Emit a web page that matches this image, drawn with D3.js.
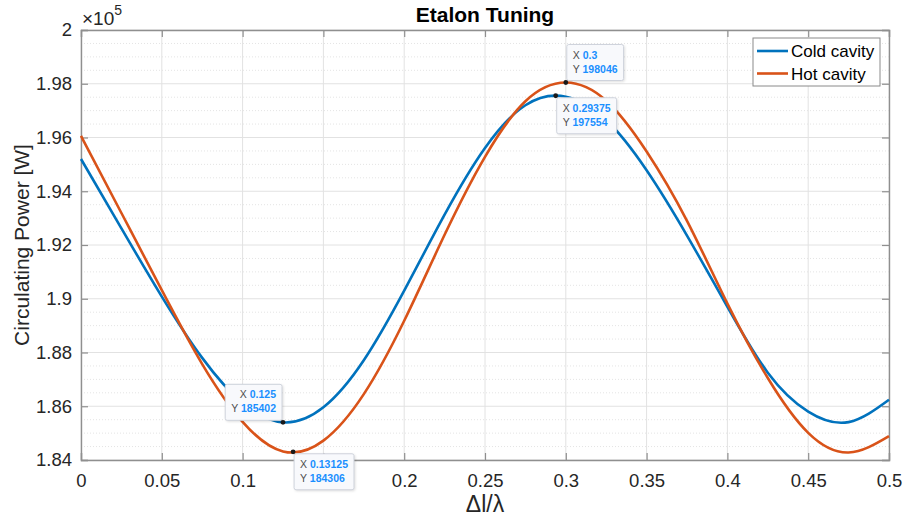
<!DOCTYPE html>
<html>
<head>
<meta charset="utf-8">
<script src="https://cdn.jsdelivr.net/npm/d3@7"></script>
<style>
  body { margin: 0; background: #fff; }
  svg { font-family: "Liberation Sans", Arial, Helvetica, sans-serif; }
</style>
</head>
<body>
<div id="chart"></div>
<script>

// detuning dl/lambda, sampled every 0.025
var xVals = [0, 0.025, 0.05, 0.075, 0.1, 0.125, 0.15, 0.175, 0.2, 0.225, 0.25,
             0.275, 0.3, 0.325, 0.35, 0.375, 0.4, 0.425, 0.45, 0.475, 0.5];

// circulating power [W]
var coldVals = [195200, 192620, 190080, 187800, 186120, 185400, 185960, 187710, 190300, 193130, 195610,
                197200, 197520, 196650, 194780, 192350, 189700, 187250, 185800, 185410, 186240];
var hotVals  = [196060, 193190, 190320, 187570, 185420, 184320, 184720, 186450, 189180, 192380, 195280,
                197350, 198046, 197370, 195480, 192900, 189820, 187050, 185010, 184280, 184890];

var seriesNames = ["Cold cavity", "Hot cavity"];

var xTicks = [0, 0.05, 0.1, 0.15, 0.2, 0.25, 0.3, 0.35, 0.4, 0.45, 0.5];
var yTicks = [184000, 186000, 188000, 190000, 192000, 194000, 196000, 198000, 200000];

// data tips: [series index, x, y]
var tips = [[0, 0.125, 185402], [1, 0.13125, 184306], [1, 0.3, 198046], [0, 0.29375, 197554]];

render();

function render() {

    var w = 906, h = 517;
    var margin = {top: 30, right: 17, bottom: 57, left: 81},
        width = w - margin.left - margin.right,
        height = h - margin.top - margin.bottom;

    var colors = ["#0072BD", "#D95319"];
    var axisColor = "#8f8f8f", textColor = "#262626";

    var svg = d3.select("#chart").append("svg")
        .attr("width", w)
        .attr("height", h);

    var x = d3.scaleLinear().domain([0, 0.5]).range([0, width]);
    var y = d3.scaleLinear().domain([184000, 200000]).range([height, 0]);

    var g = svg.append("g")
        .attr("transform", "translate(" + margin.left + "," + margin.top + ")");

    /* grid */
    var minor = d3.range(184000, 200001, 500).filter(function (v) {
        return yTicks.indexOf(v) < 0;
    });
    g.append("g").selectAll("line")
        .data(minor)
        .enter().append("line")
        .attr("x1", 0).attr("x2", width)
        .attr("y1", function (d) { return y(d); })
        .attr("y2", function (d) { return y(d); })
        .attr("stroke", "#e4e4e4")
        .attr("stroke-dasharray", "1,2");

    g.append("g").selectAll("line")
        .data(yTicks)
        .enter().append("line")
        .attr("x1", 0).attr("x2", width)
        .attr("y1", function (d) { return y(d); })
        .attr("y2", function (d) { return y(d); })
        .attr("stroke", "#e2e2e2");

    g.append("g").selectAll("line")
        .data(xTicks)
        .enter().append("line")
        .attr("y1", 0).attr("y2", height)
        .attr("x1", function (d) { return x(d); })
        .attr("x2", function (d) { return x(d); })
        .attr("stroke", "#e2e2e2");

    /* axes */
    var fmtY = function (d) { return d3.format("~g")(d / 1e5); };

    var xAxis = g.append("g")
        .attr("transform", "translate(0," + height + ")")
        .call(d3.axisBottom(x).tickValues(xTicks).tickSize(-7).tickPadding(14)
            .tickFormat(function (d) { return d3.format("~g")(d); }));
    var xTop = g.append("g")
        .call(d3.axisTop(x).tickValues(xTicks).tickSize(-7).tickFormat(""));
    var yAxis = g.append("g")
        .call(d3.axisLeft(y).tickValues(yTicks).tickSize(-7).tickPadding(9).tickFormat(fmtY));
    var yRight = g.append("g")
        .attr("transform", "translate(" + width + ",0)")
        .call(d3.axisRight(y).tickValues(yTicks).tickSize(-7).tickFormat(""));

    [xAxis, xTop, yAxis, yRight].forEach(function (a) {
        a.selectAll("path").attr("stroke", axisColor).attr("stroke-width", 1.4);
        a.selectAll("line").attr("stroke", axisColor).attr("stroke-width", 1.2);
        a.selectAll("text")
            .attr("fill", textColor)
            .style("font-size", "18.5px")
            .style("font-family", "'Liberation Sans', Arial, sans-serif");
    });
    xAxis.selectAll("text").attr("dy", "0.71em");

    /* exponent label */
    var expo = svg.append("text")
        .attr("x", margin.left + 1)
        .attr("y", 25)
        .attr("fill", textColor)
        .style("font-size", "19px");
    expo.append("tspan").text("\u00d710");
    expo.append("tspan").attr("dy", -10).style("font-size", "14px").text("5");

    /* lines */
    var line = d3.line()
        .x(function (d) { return x(d[0]); })
        .y(function (d) { return y(d[1]); })
        .curve(d3.curveNatural);

    [coldVals, hotVals].forEach(function (vals, k) {
        g.append("path")
            .datum(xVals.map(function (xv, i) { return [xv, vals[i]]; }))
            .attr("fill", "none")
            .attr("stroke", colors[k])
            .attr("stroke-width", 2.6)
            .attr("d", line);
    });

    /* title and labels */
    svg.append("text")
        .attr("x", 485).attr("y", 22)
        .attr("text-anchor", "middle")
        .attr("fill", "#000")
        .style("font-size", "21px")
        .style("font-weight", "bold")
        .text("Etalon Tuning");

    svg.append("text")
        .attr("transform", "translate(29," + (margin.top + height / 2) + ") rotate(-90)")
        .attr("text-anchor", "middle")
        .attr("fill", textColor)
        .style("font-size", "21px")
        .text("Circulating Power [W]");

    svg.append("text")
        .attr("x", margin.left + width / 2).attr("y", 512)
        .attr("text-anchor", "middle")
        .attr("fill", textColor)
        .style("font-size", "23px")
        .text("\u0394l/\u03bb");

    /* legend */
    var lg = svg.append("g").attr("transform", "translate(753,38)");
    lg.append("rect")
        .attr("width", 127).attr("height", 48)
        .attr("fill", "#fff")
        .attr("stroke", "#8a8a8a");
    seriesNames.forEach(function (name, k) {
        var ly = 13 + k * 22.5;
        lg.append("line")
            .attr("x1", 4).attr("x2", 35)
            .attr("y1", ly).attr("y2", ly)
            .attr("stroke", colors[k]).attr("stroke-width", 2.6);
        lg.append("text")
            .attr("x", 38).attr("y", ly + 6)
            .attr("fill", "#000")
            .style("font-size", "17px")
            .text(name);
    });

    /* data tips */
    var corner = [
        {dx: -1, dy: -1},   // box to upper left of point
        {dx: 1, dy: 1},     // lower right
        {dx: 1, dy: -1},    // upper right
        {dx: 1, dy: 1}      // lower right
    ];

    tips.forEach(function (t, i) {
        var px = margin.left + x(t[1]), py = margin.top + y(t[2]);
        var tg = svg.append("g");
        var box = tg.append("rect")
            .attr("fill", "#f8f9fc")
            .attr("stroke", "#cfd3dc")
            .attr("rx", 2)
            .style("filter", "drop-shadow(1px 1px 1px rgba(0,0,0,0.12))");

        var lines = [["X", String(t[1])], ["Y", String(t[2])]];
        var texts = lines.map(function (l, j) {
            var tx = tg.append("text")
                .attr("y", 14 + j * 14)
                .style("font-size", "10.5px");
            tx.append("tspan").attr("fill", "#4d4d4d").text(l[0] + " ");
            tx.append("tspan").attr("fill", "#1a8fff").style("font-weight", "bold").text(l[1]);
            return tx;
        });
        var tw = d3.max(texts, function (tx) { return tx.node().getComputedTextLength(); });
        var bw = tw + 12, bh = 36;
        var c = corner[i];
        var bx = c.dx > 0 ? px + 1 : px - bw - 1;
        var by = c.dy > 0 ? py + 2 : py - bh - 2;
        box.attr("width", bw).attr("height", bh);
        tg.attr("transform", "translate(" + bx + "," + by + ")");
        texts.forEach(function (tx) {
            if (c.dx < 0) {
                tx.attr("x", bw - 6).attr("text-anchor", "end");
            } else {
                tx.attr("x", 6);
            }
        });

        svg.append("circle")
            .attr("cx", px).attr("cy", py).attr("r", 2.4)
            .attr("fill", "#1a1a1a");
    });

}

</script>
</body>
</html>
